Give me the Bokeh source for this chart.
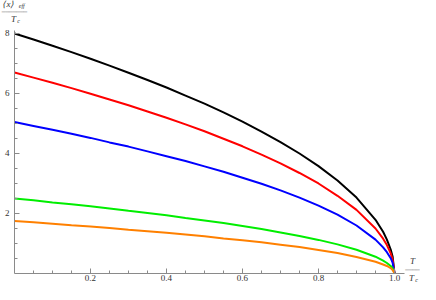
from bokeh.plotting import figure
from bokeh.models import Range1d, FixedTicker, PrintfTickFormatter, Label, LinearAxis
from bokeh.embed import file_html
from bokeh.resources import INLINE

T = [0.0, 0.05, 0.1, 0.15, 0.2, 0.25, 0.3, 0.35, 0.4, 0.45, 0.5, 0.55, 0.6,
     0.65, 0.7, 0.75, 0.8, 0.85, 0.9, 0.95, 0.97, 0.98, 0.99, 0.995, 1.0]
black = [8.00, 7.80, 7.59, 7.38, 7.16, 6.93, 6.69, 6.45, 6.20, 5.93, 5.66, 5.37, 5.06,
         4.73, 4.38, 4.00, 3.58, 3.10, 2.53, 1.79, 1.39, 1.13, 0.80, 0.57, 0.00]
red = [6.70, 6.53, 6.36, 6.18, 5.99, 5.80, 5.61, 5.40, 5.19, 4.97, 4.74, 4.49, 4.24,
       3.96, 3.67, 3.35, 3.00, 2.59, 2.12, 1.50, 1.16, 0.95, 0.67, 0.47, 0.00]
blue = [5.05, 4.92, 4.79, 4.66, 4.52, 4.37, 4.23, 4.07, 3.91, 3.75, 3.57, 3.39, 3.19,
        2.99, 2.77, 2.53, 2.26, 1.96, 1.60, 1.13, 0.87, 0.71, 0.51, 0.36, 0.00]
green = [2.50, 2.44, 2.37, 2.31, 2.24, 2.17, 2.09, 2.02, 1.94, 1.85, 1.77, 1.68, 1.58,
         1.48, 1.37, 1.25, 1.12, 0.97, 0.79, 0.56, 0.43, 0.35, 0.25, 0.18, 0.00]
orange = [1.75, 1.71, 1.66, 1.61, 1.57, 1.52, 1.46, 1.41, 1.36, 1.30, 1.24, 1.17, 1.11,
          1.04, 0.96, 0.88, 0.78, 0.68, 0.55, 0.39, 0.30, 0.25, 0.18, 0.12, 0.00]

x_ticks = [0.2, 0.4, 0.6, 0.8, 1.0]
x_minor = [i * 0.05 for i in range(1, 21)]
y_ticks = [2, 4, 6, 8]
y_minor = [i * 0.5 for i in range(1, 17)]

series = [(black, "#000000"), (red, "#ff0000"), (blue, "#0000ff"),
          (green, "#00ee00"), (orange, "#ff8000")]

p = figure(width=420, height=284, output_backend="svg", toolbar_location=None,
           x_range=Range1d(-0.03684, 1.06842), y_range=Range1d(-0.3667, 9.1),
           x_axis_location=None, y_axis_location=None, min_border=0)
p.outline_line_color = None
p.xgrid.visible = False
p.ygrid.visible = False
p.background_fill_color = "white"

for vals, col in series:
    p.line(T, vals, line_color=col, line_width=2)

xax = LinearAxis(fixed_location=0, bounds=(0, 1.025),
                 ticker=FixedTicker(ticks=x_ticks, minor_ticks=x_minor),
                 formatter=PrintfTickFormatter(format="%.1f"))
yax = LinearAxis(fixed_location=0, bounds=(0, 8.1),
                 ticker=FixedTicker(ticks=y_ticks, minor_ticks=y_minor),
                 formatter=PrintfTickFormatter(format="%d"))
axis_col = "#8a8a8a"
for ax in (xax, yax):
    ax.axis_line_color = axis_col
    ax.major_tick_line_color = axis_col
    ax.minor_tick_line_color = axis_col
    ax.major_tick_out = 0
    ax.minor_tick_out = 0
    ax.major_tick_in = 5
    ax.minor_tick_in = 3
    ax.major_label_text_font = "Liberation Serif"
    ax.major_label_text_font_size = "9px"
    ax.major_label_text_color = "#333333"
    ax.major_label_standoff = 2
yax.major_label_standoff = 5
p.add_layout(xax, "below")
p.add_layout(yax, "left")

lab = dict(text_font="Liberation Serif", text_color="#333333",
           text_font_style="italic", text_align="center", text_baseline="middle")
bar = dict(text_font="DejaVu Sans", text_color="#666666", text_align="center",
           text_baseline="middle")

# y-axis label: <x>_eff / T_c
p.add_layout(Label(x=-0.0158, y=8.97, text="⟨x⟩", text_font_size="9px", **lab))
p.add_layout(Label(x=0.0190, y=8.90, text="eff", text_font_size="6px", **lab))
p.add_layout(Label(x=0.0, y=8.74, text="───────", text_font_size="6px", **bar))
p.add_layout(Label(x=-0.0026, y=8.49, text="T", text_font_size="9px", **lab))
p.add_layout(Label(x=0.0110, y=8.42, text="c", text_font_size="6px", **lab))

# x-axis label: T / T_c
p.add_layout(Label(x=1.0474, y=0.40, text="T", text_font_size="9px", **lab))
p.add_layout(Label(x=1.0474, y=0.12, text="────", text_font_size="6px", **bar))
p.add_layout(Label(x=1.0447, y=-0.15, text="T", text_font_size="9px", **lab))
p.add_layout(Label(x=1.0579, y=-0.21, text="c", text_font_size="6px", **lab))

open("out.html", "w").write(file_html(p, INLINE))
